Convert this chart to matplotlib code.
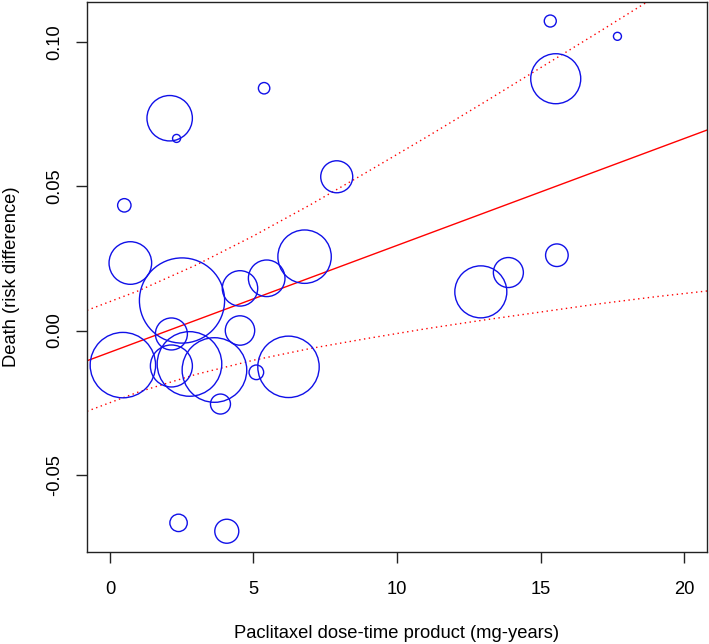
import numpy as np
import matplotlib
matplotlib.use('Agg')
import matplotlib.pyplot as plt

plt.rcParams['font.family'] = ['Liberation Sans', 'DejaVu Sans']

# studies: paclitaxel dose-time product, risk difference, bubble radius (px ~ weight)
dose = [5.37, 2.08, 2.32, 0.50, 7.90, 0.71, 6.78, 5.46, 4.53, 2.51,
        2.14, 4.53, 0.45, 2.14, 2.77, 3.64, 5.10, 6.22, 3.85, 15.34,
        17.68, 15.53, 15.57, 13.88, 12.92, 2.39, 4.07]
rd = [0.0840, 0.0736, 0.0666, 0.0434, 0.0533, 0.0234, 0.0256, 0.0181, 0.0146, 0.0104,
      -0.0012, 0.0000, -0.0120, -0.0123, -0.0116, -0.0137, -0.0145, -0.0126, -0.0255, 0.1073,
      0.1020, 0.0873, 0.0261, 0.0201, 0.0134, -0.0667, -0.0696]
weight = [5.7, 22.7, 4.0, 6.7, 16.0, 21.3, 26.7, 18.3, 17.7, 42.6,
          16.0, 14.7, 32.7, 21.0, 32.3, 32.3, 7.3, 30.7, 10.0, 6.0,
          4.0, 25.0, 11.3, 15.0, 26.0, 8.7, 12.0]

# meta-regression fit (ends) and 95% confidence band
fit_x = [-0.8, 20.8]
fit_y = [-0.0105, 0.0695]
band_x = [-0.8, 1, 3, 5, 7, 9, 11, 13, 15, 17, 19, 20.8]
upper_y = [0.0070, 0.0138, 0.0227, 0.0328, 0.0437, 0.0552,
           0.0669, 0.0789, 0.0911, 0.1033, 0.1157, 0.1268]
lower_y = [-0.0280, -0.0213, -0.0152, -0.0103, -0.0062, -0.0027,
           0.0006, 0.0036, 0.0064, 0.0092, 0.0117, 0.0137]

x_ticks = [0, 5, 10, 15, 20]
y_ticks = [-0.05, 0.00, 0.05, 0.10]

dpi = 100
fig = plt.figure(figsize=(7.09, 6.44), dpi=dpi)
ax = fig.add_axes([87 / 709, 92 / 644, 620 / 709, 550 / 644])

sizes = [(2 * r * 72 / dpi) ** 2 for r in weight]
ax.scatter(dose, rd, s=sizes, facecolors='none', edgecolors='#1010e8',
           linewidths=1.0, zorder=3)

ax.plot(fit_x, fit_y, color='red', lw=1.0, zorder=2)
ax.plot(band_x, upper_y, color='red', lw=1.0, ls=(0, (1, 2.5)), zorder=2)
ax.plot(band_x, lower_y, color='red', lw=1.0, ls=(0, (1, 2.5)), zorder=2)

ax.set_xlim(-0.8, 20.8)
ax.set_ylim(-0.0768, 0.1139)
ax.set_xticks(x_ticks)
ax.set_yticks(y_ticks)
ax.set_yticklabels(['%.2f' % v for v in y_ticks], rotation=90, va='center')

for s in ax.spines.values():
    s.set_linewidth(1.0)
    s.set_color('#222222')
ax.tick_params(length=8, width=1.0, labelsize=13.2, color='#222222')
ax.tick_params(axis='x', pad=13)
ax.tick_params(axis='y', pad=9)

ax.set_xlabel('Paclitaxel dose-time product (mg-years)', fontsize=13.2, labelpad=19)
ax.set_ylabel('Death (risk difference)', fontsize=13.2, labelpad=19)

fig.savefig('out.png', dpi=dpi)
